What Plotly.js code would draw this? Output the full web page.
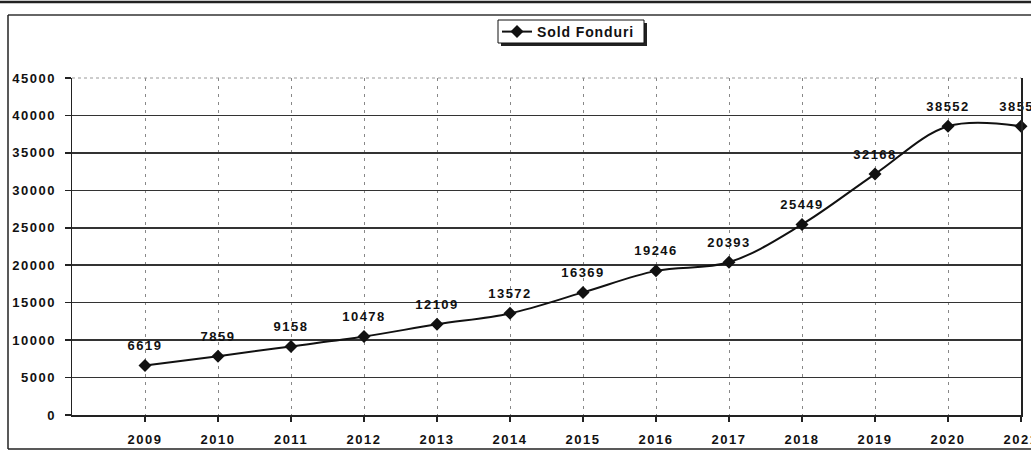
<!DOCTYPE html>
<html><head><meta charset="utf-8">
<script src="https://cdn.plot.ly/plotly-3.0.1.min.js"></script>
<style>
html,body{margin:0;padding:0;background:#fff;}
text{letter-spacing:1.5px;}
#chart .legendtext{letter-spacing:0.9px;}
#chart .textpoint text{transform:translateY(-5px);}
</style>
</head><body>
<div id="chart" style="width:1031px;height:450px;"></div>
<script>
const years = [2009,2010,2011,2012,2013,2014,2015,2016,2017,2018,2019,2020,2021];
const soldFonduri = [6619,7859,9158,10478,12109,13572,16369,19246,20393,25449,32168,38552,38552];
const seriesName = 'Sold Fonduri';
const yTicks = [0,5000,10000,15000,20000,25000,30000,35000,40000,45000];

const fnt = {family:'Liberation Sans, Arial, sans-serif', size:13, color:'#111', weight:'bold'};

const trace = {
  x: years, y: soldFonduri, name: seriesName,
  type:'scatter', mode:'lines+markers+text',
  line:{shape:'spline', smoothing:1, color:'#111', width:2},
  marker:{symbol:'diamond', size:10, color:'#111'},
  text: soldFonduri.map(String), textposition:'top center',
  textfont: fnt, cliponaxis:false, hoverinfo:'skip'
};
// invisible trace on an overlay axis that carries the solid horizontal grid (without the top 45000 line)
const gridTrace = {x:[years[0]], y:[yTicks[0]], yaxis:'y2', mode:'markers', marker:{opacity:0}, showlegend:false, hoverinfo:'skip'};

const px = v => (v-72)/949, py = v => (415-v)/337;

const layout = {
  width:1031, height:450,
  margin:{l:72, r:10, t:78, b:35},
  paper_bgcolor:'#fff', plot_bgcolor:'#fff',
  font: fnt,
  showlegend:true,
  legend:{x:px(497), xanchor:'left', y:py(16), yanchor:'top', orientation:'h',
    borderwidth:0, bgcolor:'rgba(0,0,0,0)', font:Object.assign({}, fnt, {size:14}), itemwidth:30},
  xaxis:{range:[2008,2021], tickvals:years, ticktext:years.map(String),
    showgrid:true, gridcolor:'#888', griddash:'3px,5px', gridwidth:1,
    showline:true, linecolor:'#222', linewidth:1.5,
    ticks:'outside', ticklen:5, tickcolor:'#222', tickwidth:1.5,
    ticklabelstandoff:7, ticklabeloverflow:'allow', zeroline:false, fixedrange:true},
  yaxis:{range:[0,45000], tickvals:yTicks, ticktext:yTicks.map(String),
    showgrid:false, mirror:true,
    showline:true, linecolor:'#222', linewidth:1.5,
    ticks:'outside', ticklen:6, tickcolor:'#222', tickwidth:1.5,
    ticklabelstandoff:6, zeroline:false, fixedrange:true},
  yaxis2:{overlaying:'y', range:[0,45000], tickvals:yTicks.slice(0,-1),
    showgrid:true, gridcolor:'#333', gridwidth:1.5, showticklabels:false,
    ticks:'', showline:false, zeroline:false, fixedrange:true},
  shapes:[
    {type:'line', xref:'paper', yref:'paper', x0:0, x1:1, y0:1, y1:1, line:{color:'#999', width:1, dash:'dot'}},
    {type:'line', xref:'paper', yref:'paper', x0:-0.08, x1:1.02, y0:1.2255, y1:1.2255, line:{color:'#222', width:2.5}},
    {type:'line', xref:'paper', yref:'paper', x0:px(8), x1:1.02, y0:py(15), y1:py(15), line:{color:'#333', width:1.5}},
    {type:'line', xref:'paper', yref:'paper', x0:px(8), x1:px(8), y0:py(15), y1:py(449), line:{color:'#222', width:1.5}},
    {type:'line', xref:'paper', yref:'paper', x0:px(8), x1:1.02, y0:py(449), y1:py(449), line:{color:'#222', width:1.5}},
    {type:'rect', xref:'paper', yref:'paper', x0:px(501), x1:px(647), y0:py(46), y1:py(23), fillcolor:'#222', line:{width:0}},
    {type:'rect', xref:'paper', yref:'paper', x0:px(498), x1:px(644), y0:py(43), y1:py(20), fillcolor:'#fff', line:{color:'#111', width:1}}
  ]
};

Plotly.newPlot('chart', [trace, gridTrace], layout, {displayModeBar:false, staticPlot:true});
</script>
</body></html>
